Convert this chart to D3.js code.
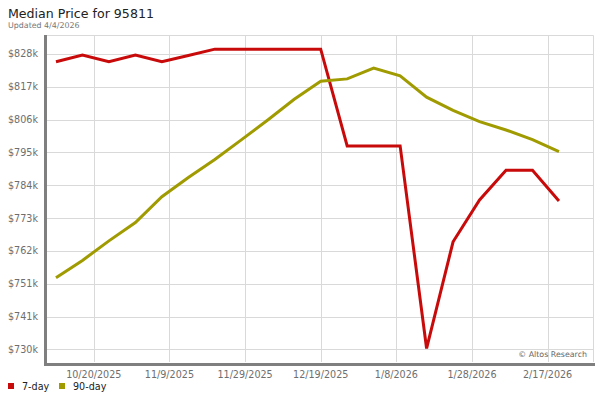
<!DOCTYPE html>
<html>
<head>
<meta charset="utf-8">
<script src="https://cdn.jsdelivr.net/npm/d3@7"></script>
<style>
  body { margin: 0; background: #fff; }
  text { font-family: "DejaVu Sans", Verdana, sans-serif; }
</style>
</head>
<body>
<svg id="vis" width="600" height="400"></svg>
<script>
var vis = d3.select("#vis");

// weekly points (Fridays)
var dates = ["2025-10-10", "2025-10-17", "2025-10-24", "2025-10-31", "2025-11-07",
    "2025-11-14", "2025-11-21", "2025-11-28", "2025-12-05", "2025-12-12",
    "2025-12-19", "2025-12-26", "2026-01-02", "2026-01-09", "2026-01-16",
    "2026-01-23", "2026-01-30", "2026-02-06", "2026-02-13", "2026-02-20"];

var sevenDay = [825300, 827500, 825300, 827500, 825300, 827400, 829500, 829500, 829500, 829500,
    829500, 797300, 797300, 797300, 729900, 765400, 779300, 789200, 789200, 779000];

var ninetyDay = [753400, 759200, 765700, 771800, 780400, 786800, 792800, 799300, 805900, 812800,
    818800, 819600, 823200, 820600, 813500, 809100, 805400, 802600, 799400, 795400];

var xTicks = ["2025-10-20", "2025-11-09", "2025-11-29", "2025-12-19", "2026-01-08", "2026-01-28", "2026-02-17"];
var yTicks = [729600, 740520, 751440, 762360, 773280, 784200, 795120, 806040, 816960, 827880];

var seriesNames = ["7-day", "90-day"];
var colors = ["#c80a0a", "#a09b00"];

var parse = d3.timeParse("%Y-%m-%d");
var fmtDate = d3.timeFormat("%-m/%-d/%Y");

// plot box
var pL = 47, pR = 593, pT = 35, pB = 362;

var x = d3.scaleTime()
    .domain([new Date(2025, 9, 7, 15), new Date(2026, 2, 1, 0)])
    .range([pL, pR]);

var y = d3.scaleLinear()
    .domain([725400, 834200])
    .range([pB, pT]);

// title
vis.append("text")
    .attr("x", 8).attr("y", 18)
    .attr("font-size", "12.6px")
    .attr("fill", "#222")
    .text("Median Price for 95811");

vis.append("text")
    .attr("x", 8).attr("y", 28)
    .attr("font-size", "7.9px")
    .attr("fill", "#777")
    .text("Updated 4/4/2026");

// grid
var grid = vis.append("g");
grid.selectAll(".hgrid").data(yTicks).enter().append("line")
    .attr("x1", pL).attr("x2", pR)
    .attr("y1", d => Math.round(y(d)) + 0.5)
    .attr("y2", d => Math.round(y(d)) + 0.5)
    .attr("stroke", "#d9d9d9");

grid.selectAll(".vgrid").data(xTicks).enter().append("line")
    .attr("x1", d => Math.round(x(parse(d))) + 0.5)
    .attr("x2", d => Math.round(x(parse(d))) + 0.5)
    .attr("y1", pT).attr("y2", pB)
    .attr("stroke", "#d9d9d9");

// top + right border
grid.append("path")
    .attr("d", `M${pL},${pT + 0.5}H${pR + 0.5}V${pB}`)
    .attr("fill", "none")
    .attr("stroke", "#d9d9d9");

// axes labels
vis.selectAll(".ylab").data(yTicks).enter().append("text")
    .attr("x", 38)
    .attr("y", d => y(d) + 3.5)
    .attr("text-anchor", "end")
    .attr("font-size", "9.6px")
    .attr("fill", "#6e6e6e")
    .text(d => "$" + Math.round(d / 1000) + "k");

vis.selectAll(".xlab").data(xTicks).enter().append("text")
    .attr("x", d => x(parse(d)))
    .attr("y", 378)
    .attr("text-anchor", "middle")
    .attr("font-size", "9.6px")
    .attr("fill", "#6e6e6e")
    .text(d => fmtDate(parse(d)));

// thick axis bars
vis.append("path")
    .attr("d", `M${pL - 1.5},${pT}V${pB + 2.5}H${pR + 2}`)
    .attr("fill", "none")
    .attr("stroke", "#7f7f7f")
    .attr("stroke-width", 3);

vis.append("text")
    .attr("x", 587).attr("y", 357)
    .attr("text-anchor", "end")
    .attr("font-size", "7.9px")
    .attr("fill", "#666")
    .text("\u00a9 Altos Research");

// lines
var line = d3.line()
    .x((d, i) => x(parse(dates[i])))
    .y(d => y(d));

[sevenDay, ninetyDay].forEach(function(vals, k) {
    vis.append("path")
        .datum(vals)
        .attr("d", line)
        .attr("fill", "none")
        .attr("stroke", colors[k])
        .attr("stroke-width", 3)
        .attr("stroke-linejoin", "miter");
});

// legend
var legX = [8, 59];
var leg = vis.selectAll(".leg").data(seriesNames).enter().append("g")
    .attr("transform", (d, i) => `translate(${legX[i]} 383)`);
leg.append("rect")
    .attr("width", 6).attr("height", 6)
    .attr("fill", (d, i) => colors[i]);
leg.append("text")
    .attr("x", 14).attr("y", 7)
    .attr("font-size", "9.6px")
    .attr("fill", "#222")
    .text(d => d);
</script>
</body>
</html>
